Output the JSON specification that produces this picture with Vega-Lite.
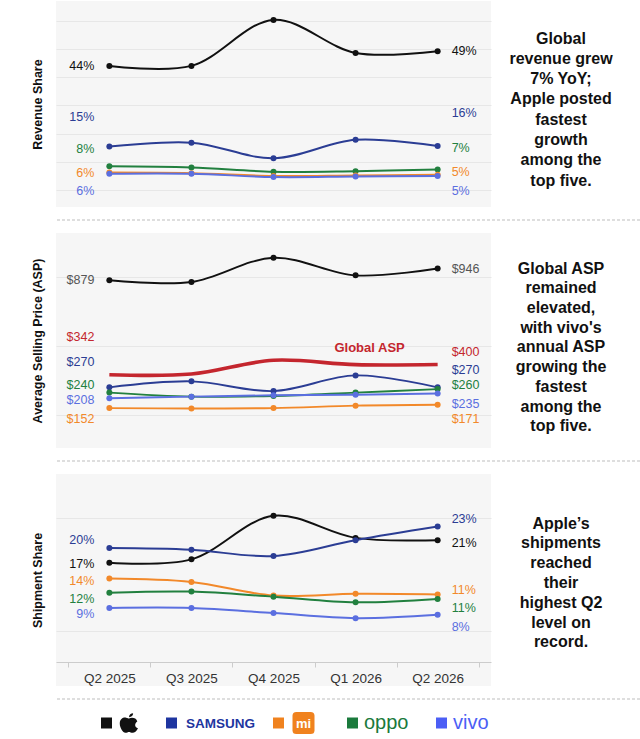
{
  "$schema": "https://vega.github.io/schema/vega-lite/v6.json",
  "padding": {"left": 31, "top": 1, "right": 0, "bottom": 0},
  "background": "white",
  "config": {
    "font": "Liberation Sans",
    "view": {"stroke": null}
  },
  "datasets": {
    "revenue": [
      {"quarter": "Q2 2025", "brand": "Apple", "value": 0.44},
      {"quarter": "Q3 2025", "brand": "Apple", "value": 0.44},
      {"quarter": "Q4 2025", "brand": "Apple", "value": 0.603},
      {"quarter": "Q1 2026", "brand": "Apple", "value": 0.486},
      {"quarter": "Q2 2026", "brand": "Apple", "value": 0.492},
      {"quarter": "Q2 2025", "brand": "Samsung", "value": 0.154},
      {"quarter": "Q3 2025", "brand": "Samsung", "value": 0.168},
      {"quarter": "Q4 2025", "brand": "Samsung", "value": 0.113},
      {"quarter": "Q1 2026", "brand": "Samsung", "value": 0.178},
      {"quarter": "Q2 2026", "brand": "Samsung", "value": 0.156},
      {"quarter": "Q2 2025", "brand": "OPPO", "value": 0.084},
      {"quarter": "Q3 2025", "brand": "OPPO", "value": 0.08},
      {"quarter": "Q4 2025", "brand": "OPPO", "value": 0.065},
      {"quarter": "Q1 2026", "brand": "OPPO", "value": 0.067},
      {"quarter": "Q2 2026", "brand": "OPPO", "value": 0.073},
      {"quarter": "Q2 2025", "brand": "Xiaomi", "value": 0.062},
      {"quarter": "Q3 2025", "brand": "Xiaomi", "value": 0.06},
      {"quarter": "Q4 2025", "brand": "Xiaomi", "value": 0.05},
      {"quarter": "Q1 2026", "brand": "Xiaomi", "value": 0.052},
      {"quarter": "Q2 2026", "brand": "Xiaomi", "value": 0.054},
      {"quarter": "Q2 2025", "brand": "vivo", "value": 0.058},
      {"quarter": "Q3 2025", "brand": "vivo", "value": 0.058},
      {"quarter": "Q4 2025", "brand": "vivo", "value": 0.046},
      {"quarter": "Q1 2026", "brand": "vivo", "value": 0.048},
      {"quarter": "Q2 2026", "brand": "vivo", "value": 0.05}
    ],
    "asp": [
      {"quarter": "Q2 2025", "brand": "Apple", "value": 879},
      {"quarter": "Q3 2025", "brand": "Apple", "value": 869},
      {"quarter": "Q4 2025", "brand": "Apple", "value": 1007},
      {"quarter": "Q1 2026", "brand": "Apple", "value": 907},
      {"quarter": "Q2 2026", "brand": "Apple", "value": 946},
      {"quarter": "Q2 2025", "brand": "Global ASP", "value": 342},
      {"quarter": "Q3 2025", "brand": "Global ASP", "value": 346},
      {"quarter": "Q4 2025", "brand": "Global ASP", "value": 424},
      {"quarter": "Q1 2026", "brand": "Global ASP", "value": 399},
      {"quarter": "Q2 2026", "brand": "Global ASP", "value": 400},
      {"quarter": "Q2 2025", "brand": "Samsung", "value": 270},
      {"quarter": "Q3 2025", "brand": "Samsung", "value": 304},
      {"quarter": "Q4 2025", "brand": "Samsung", "value": 249},
      {"quarter": "Q1 2026", "brand": "Samsung", "value": 338},
      {"quarter": "Q2 2026", "brand": "Samsung", "value": 270},
      {"quarter": "Q2 2025", "brand": "OPPO", "value": 240},
      {"quarter": "Q3 2025", "brand": "OPPO", "value": 217},
      {"quarter": "Q4 2025", "brand": "OPPO", "value": 221},
      {"quarter": "Q1 2026", "brand": "OPPO", "value": 240},
      {"quarter": "Q2 2026", "brand": "OPPO", "value": 260},
      {"quarter": "Q2 2025", "brand": "vivo", "value": 208},
      {"quarter": "Q3 2025", "brand": "vivo", "value": 217},
      {"quarter": "Q4 2025", "brand": "vivo", "value": 225},
      {"quarter": "Q1 2026", "brand": "vivo", "value": 228},
      {"quarter": "Q2 2026", "brand": "vivo", "value": 235},
      {"quarter": "Q2 2025", "brand": "Xiaomi", "value": 152},
      {"quarter": "Q3 2025", "brand": "Xiaomi", "value": 150},
      {"quarter": "Q4 2025", "brand": "Xiaomi", "value": 152},
      {"quarter": "Q1 2026", "brand": "Xiaomi", "value": 166},
      {"quarter": "Q2 2026", "brand": "Xiaomi", "value": 171}
    ],
    "shipment": [
      {"quarter": "Q2 2025", "brand": "Apple", "value": 0.17},
      {"quarter": "Q3 2025", "brand": "Apple", "value": 0.176},
      {"quarter": "Q4 2025", "brand": "Apple", "value": 0.253},
      {"quarter": "Q1 2026", "brand": "Apple", "value": 0.214},
      {"quarter": "Q2 2026", "brand": "Apple", "value": 0.21},
      {"quarter": "Q2 2025", "brand": "Samsung", "value": 0.196},
      {"quarter": "Q3 2025", "brand": "Samsung", "value": 0.193},
      {"quarter": "Q4 2025", "brand": "Samsung", "value": 0.182},
      {"quarter": "Q1 2026", "brand": "Samsung", "value": 0.21},
      {"quarter": "Q2 2026", "brand": "Samsung", "value": 0.234},
      {"quarter": "Q2 2025", "brand": "Xiaomi", "value": 0.142},
      {"quarter": "Q3 2025", "brand": "Xiaomi", "value": 0.136},
      {"quarter": "Q4 2025", "brand": "Xiaomi", "value": 0.112},
      {"quarter": "Q1 2026", "brand": "Xiaomi", "value": 0.115},
      {"quarter": "Q2 2026", "brand": "Xiaomi", "value": 0.114},
      {"quarter": "Q2 2025", "brand": "OPPO", "value": 0.117},
      {"quarter": "Q3 2025", "brand": "OPPO", "value": 0.119},
      {"quarter": "Q4 2025", "brand": "OPPO", "value": 0.11},
      {"quarter": "Q1 2026", "brand": "OPPO", "value": 0.1},
      {"quarter": "Q2 2026", "brand": "OPPO", "value": 0.106},
      {"quarter": "Q2 2025", "brand": "vivo", "value": 0.09},
      {"quarter": "Q3 2025", "brand": "vivo", "value": 0.09},
      {"quarter": "Q4 2025", "brand": "vivo", "value": 0.081},
      {"quarter": "Q1 2026", "brand": "vivo", "value": 0.072},
      {"quarter": "Q2 2026", "brand": "vivo", "value": 0.078}
    ],
    "notes": [
      {"panel": "revenue", "note": "Global\nrevenue grew\n7% YoY;\nApple posted\nfastest\ngrowth\namong the\ntop five."},
      {"panel": "asp", "note": "Global ASP\nremained\nelevated,\nwith vivo's\nannual ASP\ngrowing the\nfastest\namong the\ntop five."},
      {"panel": "shipment", "note": "Apple’s\nshipments\nreached\ntheir\nhighest Q2\nlevel on\nrecord."}
    ],
    "brands": [
      {"brand": "Apple", "label": ""},
      {"brand": "Samsung", "label": "SAMSUNG"},
      {"brand": "Xiaomi", "label": "mi"},
      {"brand": "OPPO", "label": "oppo"},
      {"brand": "vivo", "label": "vivo"}
    ]
  },
  "resolve": {"scale": {"x": "independent", "y": "independent", "color": "independent"}},
  "spacing": 12,
  "vconcat": [
    {
      "spacing": 0,
      "hconcat": [
        {
          "width": 435,
          "height": 206,
          "view": {"fill": "#f6f6f6", "stroke": null},
          "data": {"name": "revenue"},
          "encoding": {
            "x": {"field": "quarter", "type": "ordinal", "sort": ["Q2 2025", "Q3 2025", "Q4 2025", "Q1 2026", "Q2 2026"], "scale": {"type": "band", "paddingInner": 0, "paddingOuter": 0.15}, "axis": null},
            "y": {
              "field": "value", "type": "quantitative",
              "scale": {"domain": [-0.06, 0.67], "nice": false, "zero": false},
              "axis": {"title": "Revenue Share", "labels": false, "ticks": false, "domain": false, "grid": true, "gridColor": "#e7e7e7", "values": [0, 0.1, 0.2, 0.3, 0.4, 0.5, 0.6], "titleFontSize": 12.5, "titleFontWeight": "bold", "titleColor": "#111111", "titlePadding": 12}
            },
            "color": {"field": "brand", "type": "nominal", "legend": null, "scale": {"domain": ["Apple", "Samsung", "Xiaomi", "OPPO", "vivo", "Global ASP"], "range": ["#111111", "#2b3d94", "#f2892a", "#22803f", "#5b6fe0", "#c4262e"]}}
          },
          "layer": [
            {"mark": {"type": "line", "interpolate": "catmull-rom", "strokeWidth": 2}},
            {"mark": {"type": "point", "filled": true, "size": 36, "opacity": 1}},
            {
              "transform": [{"filter": "datum.quarter == 'Q2 2025'"}],
              "mark": {"type": "text", "align": "right", "baseline": "middle", "dx": -15, "fontSize": 12.5, "dy": {"expr": "datum.brand=='Samsung'?-30:datum.brand=='OPPO'?-17:datum.brand=='vivo'?17:0"}},
              "encoding": {"text": {"field": "value", "type": "quantitative", "format": ".0%"}}
            },
            {
              "transform": [{"filter": "datum.quarter == 'Q2 2026'"}],
              "mark": {"type": "text", "align": "left", "baseline": "middle", "dx": 14, "fontSize": 12.5, "dy": {"expr": "datum.brand=='Samsung'?-33:datum.brand=='OPPO'?-21:datum.brand=='Xiaomi'?-3:datum.brand=='vivo'?15:0"}},
              "encoding": {"text": {"field": "value", "type": "quantitative", "format": ".0%"}}
            }
          ]
        },
        {
          "width": 140,
          "height": 206,
          "data": {"name": "notes"},
          "transform": [{"filter": "datum.panel == 'revenue'"}],
          "mark": {"type": "text", "lineBreak": "\n", "lineHeight": 20.3, "fontSize": 16, "fontWeight": "bold", "align": "center", "baseline": "middle", "dy": -65.5, "color": "#111111"},
          "encoding": {"text": {"field": "note", "type": "nominal"}}
        }
      ]
    },
    {
      "width": 599,
      "height": 1,
      "data": {"values": [{}]},
      "mark": {"type": "rule", "strokeDash": [3, 2], "color": "#bdbdbd", "strokeWidth": 1},
      "encoding": {"y": {"datum": 0, "type": "quantitative", "scale": {"domain": [0, 1]}, "axis": null}}
    },
    {
      "spacing": 0,
      "hconcat": [
        {
          "width": 435,
          "height": 215,
          "view": {"fill": "#f6f6f6", "stroke": null},
          "data": {"name": "asp"},
          "encoding": {
            "x": {"field": "quarter", "type": "ordinal", "sort": ["Q2 2025", "Q3 2025", "Q4 2025", "Q1 2026", "Q2 2026"], "scale": {"type": "band", "paddingInner": 0, "paddingOuter": 0.15}, "axis": null},
            "y": {
              "field": "value", "type": "quantitative",
              "scale": {"domain": [-75, 1148], "nice": false, "zero": false},
              "axis": {"title": "Average Selling Price (ASP)", "labels": false, "ticks": false, "domain": false, "grid": true, "gridColor": "#e7e7e7", "values": [115, 507, 899], "titleFontSize": 12.5, "titleFontWeight": "bold", "titleColor": "#111111", "titlePadding": 12}
            },
            "color": {"field": "brand", "type": "nominal", "legend": null, "scale": {"domain": ["Apple", "Samsung", "Xiaomi", "OPPO", "vivo", "Global ASP"], "range": ["#111111", "#2b3d94", "#f2892a", "#22803f", "#5b6fe0", "#c4262e"]}}
          },
          "layer": [
            {
              "mark": {"type": "line", "interpolate": "catmull-rom"},
              "encoding": {"strokeWidth": {"condition": {"test": "datum.brand == 'Global ASP'", "value": 3.6}, "value": 1.9}}
            },
            {
              "transform": [{"filter": "datum.brand != 'Global ASP'"}],
              "mark": {"type": "point", "filled": true, "size": 36, "opacity": 1}
            },
            {
              "transform": [{"filter": "datum.quarter == 'Q2 2025'"}],
              "mark": {"type": "text", "align": "right", "baseline": "middle", "dx": -15, "fontSize": 12.5, "dy": {"expr": "datum.brand=='Global ASP'?-38:datum.brand=='Samsung'?-25:datum.brand=='OPPO'?-8:datum.brand=='vivo'?2:datum.brand=='Xiaomi'?11:0"}},
              "encoding": {
                "text": {"field": "value", "type": "quantitative", "format": "$,.0f"},
                "color": {"condition": {"test": "datum.brand == 'Apple'", "value": "#555555"}, "field": "brand", "type": "nominal"}
              }
            },
            {
              "transform": [{"filter": "datum.quarter == 'Q2 2026'"}],
              "mark": {"type": "text", "align": "left", "baseline": "middle", "dx": 14, "fontSize": 12.5, "dy": {"expr": "datum.brand=='Global ASP'?-12:datum.brand=='Samsung'?-17:datum.brand=='OPPO'?-4:datum.brand=='vivo'?10:datum.brand=='Xiaomi'?14:0"}},
              "encoding": {
                "text": {"field": "value", "type": "quantitative", "format": "$,.0f"},
                "color": {"condition": {"test": "datum.brand == 'Apple'", "value": "#555555"}, "field": "brand", "type": "nominal"}
              }
            },
            {
              "transform": [{"filter": "datum.brand == 'Global ASP' && datum.quarter == 'Q1 2026'"}],
              "mark": {"type": "text", "align": "center", "baseline": "middle", "dx": 14, "dy": -17, "fontSize": 13, "fontWeight": "bold"},
              "encoding": {"text": {"field": "brand", "type": "nominal"}}
            }
          ]
        },
        {
          "width": 140,
          "height": 215,
          "data": {"name": "notes"},
          "transform": [{"filter": "datum.panel == 'asp'"}],
          "mark": {"type": "text", "lineBreak": "\n", "lineHeight": 19.7, "fontSize": 16, "fontWeight": "bold", "align": "center", "baseline": "middle", "dy": -71.8, "color": "#111111"},
          "encoding": {"text": {"field": "note", "type": "nominal"}}
        }
      ]
    },
    {
      "width": 599,
      "height": 1,
      "data": {"values": [{}]},
      "mark": {"type": "rule", "strokeDash": [3, 2], "color": "#bdbdbd", "strokeWidth": 1},
      "encoding": {"y": {"datum": 0, "type": "quantitative", "scale": {"domain": [0, 1]}, "axis": null}}
    },
    {
      "spacing": 0,
      "hconcat": [
        {
          "width": 435,
          "height": 212,
          "view": {"fill": "#f6f6f6", "stroke": null},
          "data": {"name": "shipment"},
          "encoding": {
            "x": {
              "field": "quarter", "type": "ordinal", "sort": ["Q2 2025", "Q3 2025", "Q4 2025", "Q1 2026", "Q2 2026"],
              "scale": {"type": "band", "paddingInner": 0, "paddingOuter": 0.15},
              "axis": {"title": null, "labelAngle": 0, "labelFontSize": 13.5, "labelColor": "#333333", "domainColor": "#cccccc", "tickColor": "#cccccc", "tickBand": "extent", "tickSize": 5, "offset": -24, "labelPadding": 4, "grid": false}
            },
            "y": {
              "field": "value", "type": "quantitative",
              "scale": {"domain": [-0.048, 0.327], "nice": false, "zero": false},
              "axis": {"title": "Shipment Share", "labels": false, "ticks": false, "domain": false, "grid": true, "gridColor": "#e7e7e7", "values": [0.05, 0.25], "titleFontSize": 12.5, "titleFontWeight": "bold", "titleColor": "#111111", "titlePadding": 12}
            },
            "color": {"field": "brand", "type": "nominal", "legend": null, "scale": {"domain": ["Apple", "Samsung", "Xiaomi", "OPPO", "vivo", "Global ASP"], "range": ["#111111", "#2b3d94", "#f2892a", "#22803f", "#5b6fe0", "#c4262e"]}}
          },
          "layer": [
            {"mark": {"type": "line", "interpolate": "catmull-rom", "strokeWidth": 2}},
            {"mark": {"type": "point", "filled": true, "size": 36, "opacity": 1}},
            {
              "transform": [{"filter": "datum.quarter == 'Q2 2025'"}],
              "mark": {"type": "text", "align": "right", "baseline": "middle", "dx": -15, "fontSize": 12.5, "dy": {"expr": "datum.brand=='Samsung'?-8:datum.brand=='Apple'?1:datum.brand=='Xiaomi'?2:datum.brand=='OPPO'?6:datum.brand=='vivo'?6:0"}},
              "encoding": {"text": {"field": "value", "type": "quantitative", "format": ".0%"}}
            },
            {
              "transform": [{"filter": "datum.quarter == 'Q2 2026'"}],
              "mark": {"type": "text", "align": "left", "baseline": "middle", "dx": 14, "fontSize": 12.5, "dy": {"expr": "datum.brand=='Samsung'?-8:datum.brand=='Apple'?3:datum.brand=='Xiaomi'?-4:datum.brand=='OPPO'?9:datum.brand=='vivo'?12:0"}},
              "encoding": {"text": {"field": "value", "type": "quantitative", "format": ".0%"}}
            }
          ]
        },
        {
          "width": 140,
          "height": 212,
          "data": {"name": "notes"},
          "transform": [{"filter": "datum.panel == 'shipment'"}],
          "mark": {"type": "text", "lineBreak": "\n", "lineHeight": 19.8, "fontSize": 16, "fontWeight": "bold", "align": "center", "baseline": "middle", "dy": -56.4, "color": "#111111"},
          "encoding": {"text": {"field": "note", "type": "nominal"}}
        }
      ]
    },
    {
      "width": 599,
      "height": 1,
      "data": {"values": [{}]},
      "mark": {"type": "rule", "strokeDash": [3, 2], "color": "#bdbdbd", "strokeWidth": 1},
      "encoding": {"y": {"datum": 0, "type": "quantitative", "scale": {"domain": [0, 1]}, "axis": null}}
    },
    {
      "width": 477,
      "height": 8,
      "data": {"name": "brands"},
      "encoding": {
        "x": {"field": "brand", "type": "nominal", "sort": null, "scale": {"type": "point", "padding": 0.726}, "axis": null},
        "color": {"field": "brand", "type": "nominal", "legend": null, "scale": {"domain": ["Apple", "Samsung", "Xiaomi", "OPPO", "vivo"], "range": ["#111111", "#1e35a0", "#f0821e", "#1a7a3c", "#4b5ef5"]}}
      },
      "layer": [
        {
          "mark": {"type": "point", "shape": "square", "filled": true, "opacity": 1, "size": 121, "xOffset": {"expr": "datum.brand=='Apple'?-13:datum.brand=='Samsung'?-35.5:datum.brand=='Xiaomi'?-16:datum.brand=='OPPO'?-29.5:-28"}}
        },
        {
          "transform": [{"filter": "datum.brand == 'Apple'"}],
          "mark": {"type": "point", "filled": true, "opacity": 1, "size": 380, "xOffset": 9.5, "shape": "M0,-0.45 C0.25,-0.6 0.75,-0.55 0.85,-0.15 C0.55,0.02 0.55,0.45 0.92,0.55 C0.78,0.9 0.55,1 0.38,1 C0.18,1 0.12,0.92 0,0.92 C-0.12,0.92 -0.2,1 -0.38,1 C-0.62,1 -0.95,0.5 -0.95,0.05 C-0.95,-0.45 -0.55,-0.62 -0.3,-0.55 C-0.15,-0.52 -0.05,-0.45 0,-0.45 Z M0,-0.6 C0,-0.85 0.2,-1 0.42,-1 C0.44,-0.8 0.25,-0.6 0,-0.6 Z"}
        },
        {
          "transform": [{"filter": "datum.brand == 'Xiaomi'"}],
          "mark": {"type": "point", "filled": true, "opacity": 1, "size": 484, "xOffset": 9, "shape": "M-0.65,-1 L0.65,-1 Q1,-1 1,-0.65 L1,0.65 Q1,1 0.65,1 L-0.65,1 Q-1,1 -1,0.65 L-1,-0.65 Q-1,-1 -0.65,-1 Z"}
        },
        {
          "transform": [{"filter": "datum.brand == 'Xiaomi'"}],
          "mark": {"type": "text", "align": "center", "baseline": "middle", "dx": 9, "dy": 1, "fontSize": 13, "fontWeight": "bold"},
          "encoding": {"text": {"field": "label", "type": "nominal"}, "color": {"value": "white"}}
        },
        {
          "transform": [{"filter": "datum.brand == 'Samsung'"}],
          "mark": {"type": "text", "align": "left", "baseline": "middle", "dx": -21, "dy": 1, "fontSize": 13.5, "fontWeight": "bold"},
          "encoding": {"text": {"field": "label", "type": "nominal"}}
        },
        {
          "transform": [{"filter": "datum.brand == 'OPPO' || datum.brand == 'vivo'"}],
          "mark": {"type": "text", "align": "left", "baseline": "middle", "dx": {"expr": "datum.brand=='OPPO'?-18:-16.5"}, "dy": 0, "fontSize": 20},
          "encoding": {"text": {"field": "label", "type": "nominal"}}
        }
      ]
    }
  ]
}
